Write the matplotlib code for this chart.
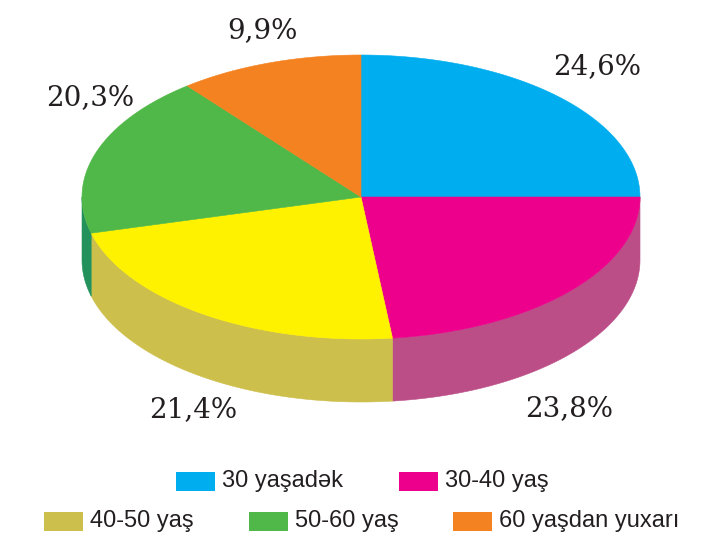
import numpy as np
import matplotlib
matplotlib.use("Agg")
import matplotlib.pyplot as plt
from matplotlib.patches import Polygon, Rectangle

# wedge sizes as drawn in the picture (they differ a little from the printed labels)
categories = ["30 yaşadək", "30-40 yaş", "40-50 yaş", "50-60 yaş", "60 yaşdan yuxarı"]
drawn_sizes = [25.0, 23.2, 22.7, 18.4, 10.7]
labels = ["24,6%", "23,8%", "21,4%", "20,3%", "9,9%"]
top_colors = ["#00AEEF", "#EC008C", "#FFF200", "#50B848", "#F58220"]
side_colors = ["#0089BC", "#BC4E87", "#CDBF4B", "#23915B", "#C9661A"]
legend_colors = ["#00AEEF", "#EC008C", "#CDBF4B", "#50B848", "#F58220"]

# layout in figure pixels
CX, CY = 361, 197
RX, RY = 279, 142
DEPTH = 63
label_pos = [(597, 67), (569, 409), (193, 410), (90, 98), (262, 31)]
legend_pos = [(176, 472), (399, 472), (44, 512), (249, 512), (453, 512)]
SWATCH_W, SWATCH_H = 39, 19


def ellipse_xy(theta, dy=0):
    # theta in degrees, clockwise from 12 o'clock
    t = np.radians(theta)
    return CX + RX * np.sin(t), CY - RY * np.cos(t) + dy


fig = plt.figure(figsize=(7.17, 5.45), dpi=100)
ax = fig.add_axes([0, 0, 1, 1])
ax.set_xlim(0, 717)
ax.set_ylim(545, 0)
ax.axis("off")

edges = np.concatenate([[0], np.cumsum(drawn_sizes)]) / sum(drawn_sizes) * 360

# side wall, only the front half of the disc shows
for i, col in enumerate(side_colors):
    a, b = max(edges[i], 90), min(edges[i + 1], 270)
    if a >= b:
        continue
    th = np.linspace(a, b, 120)
    x, y = ellipse_xy(th)
    x2, y2 = ellipse_xy(th[::-1], DEPTH)
    pts = np.column_stack([np.r_[x, x2], np.r_[y, y2]])
    ax.add_patch(Polygon(pts, closed=True, fc=col, ec=col, lw=0.4))

# top face
for i, col in enumerate(top_colors):
    th = np.linspace(edges[i], edges[i + 1], 200)
    x, y = ellipse_xy(th)
    pts = np.column_stack([np.r_[CX, x], np.r_[CY, y]])
    ax.add_patch(Polygon(pts, closed=True, fc=col, ec=col, lw=0.4))

for txt, (x, y) in zip(labels, label_pos):
    ax.text(x, y, txt, ha="center", va="center", fontsize=20,
            family="DejaVu Serif", color="#231F20")

for name, col, (x, y) in zip(categories, legend_colors, legend_pos):
    ax.add_patch(Rectangle((x, y), SWATCH_W, SWATCH_H, fc=col, ec="none"))
    ax.text(x + SWATCH_W + 7, y + SWATCH_H / 2, name, ha="left", va="center",
            fontsize=17, family="Liberation Sans", color="#231F20")

fig.savefig("out.png", dpi=100)
